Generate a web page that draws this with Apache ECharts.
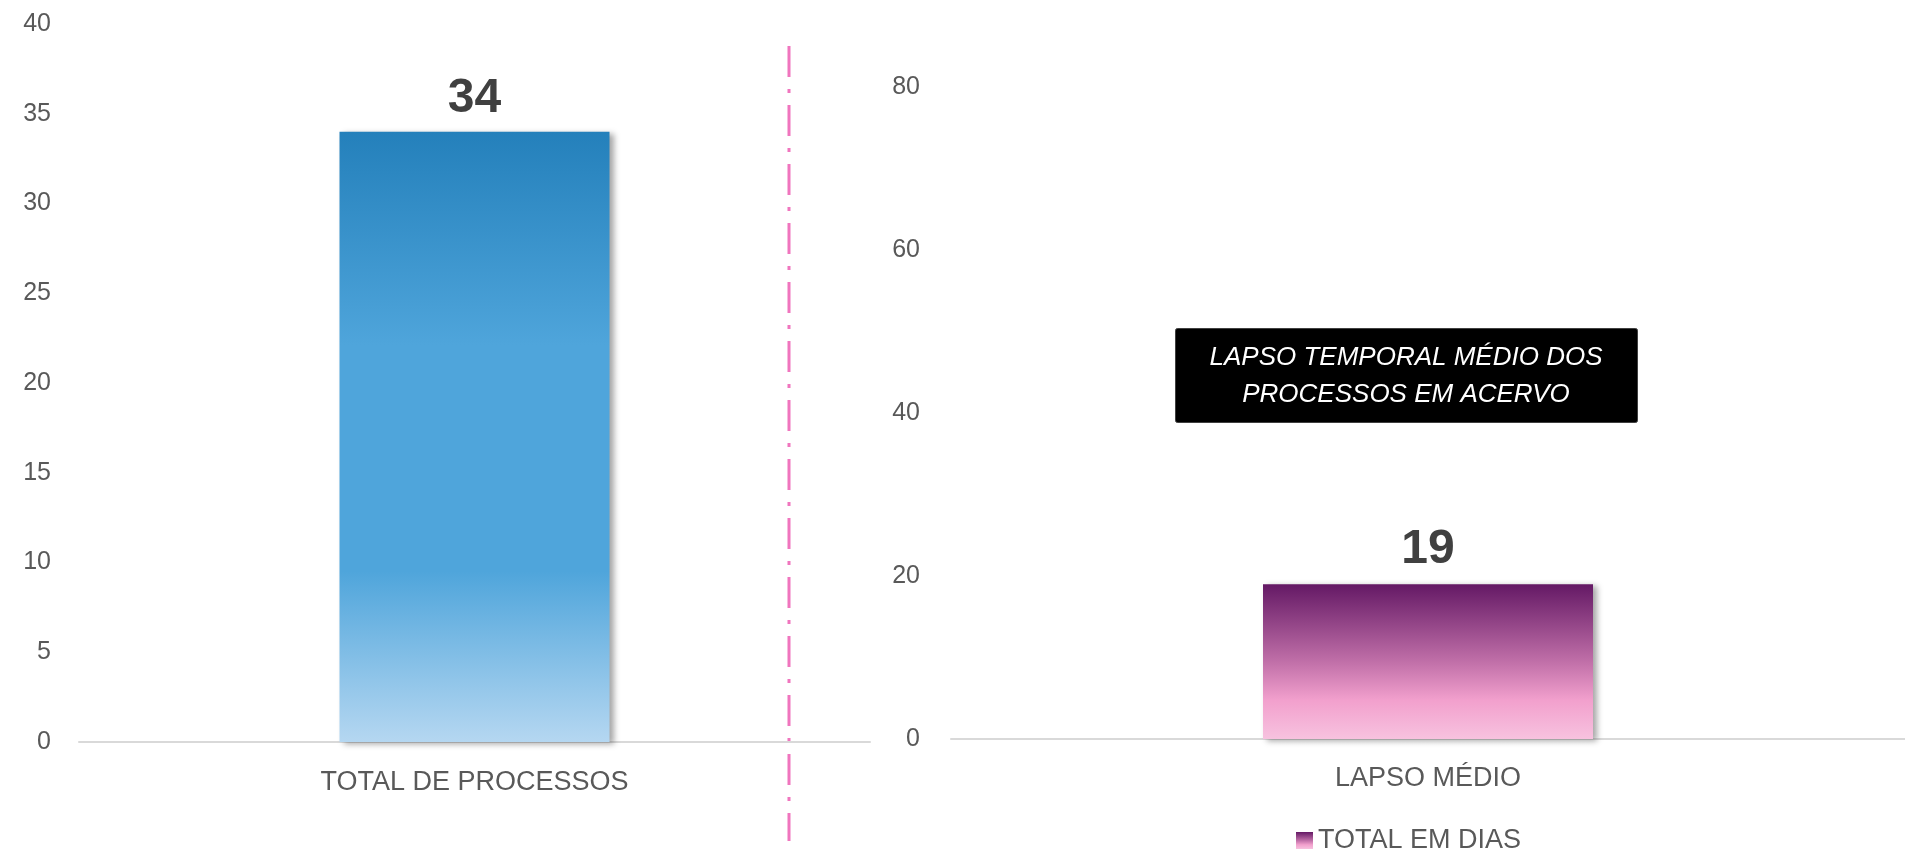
<!DOCTYPE html>
<html>
<head>
<meta charset="utf-8">
<script src="https://cdn.jsdelivr.net/npm/echarts@6/dist/echarts.min.js"></script>
<style>
html,body{margin:0;padding:0;background:#fff;}
#chart{width:1905px;height:852px;}
</style>
</head>
<body>
<div id="chart"></div>
<script>
const leftCategories = ['TOTAL DE PROCESSOS'];
const leftValues = [34];
const leftSeriesName = 'TOTAL DE PROCESSOS';
const rightCategories = ['LAPSO MÉDIO'];
const rightValues = [19];
const rightSeriesName = 'TOTAL EM DIAS';
const leftAxis = {min: 0, max: 40, interval: 5};
const rightAxis = {min: 0, max: 80, interval: 20};
const boxText = ['LAPSO TEMPORAL MÉDIO DOS', 'PROCESSOS EM ACERVO'];

const NARROW = "'Liberation Sans Narrow', 'Liberation Sans', Arial, sans-serif";
const BOLD = "'Liberation Sans', Arial, sans-serif";

const chart = echarts.init(document.getElementById('chart'));

const blueGrad = new echarts.graphic.LinearGradient(0, 0, 0, 1, [
  {offset: 0, color: '#2480bb'},
  {offset: 0.35, color: '#4fa5db'},
  {offset: 0.72, color: '#4fa5db'},
  {offset: 1, color: '#b5d7f1'}
]);
const purpleGrad = new echarts.graphic.LinearGradient(0, 0, 0, 1, [
  {offset: 0, color: '#641965'},
  {offset: 0.5, color: '#c06fa8'},
  {offset: 0.75, color: '#f2a0cd'},
  {offset: 1, color: '#f7c2df'}
]);

const axisLabelStyle = {color: '#595959', fontFamily: NARROW, fontSize: 25};
const catLabelStyle = {color: '#595959', fontFamily: NARROW, fontSize: 27};
const shadow = {shadowColor: 'rgba(0,0,0,0.35)', shadowBlur: 6, shadowOffsetX: 4, shadowOffsetY: 2};

chart.setOption({
  animation: false,
  backgroundColor: '#ffffff',
  grid: [
    {left: 79, right: 1035, top: 24, bottom: 110},
    {left: 951, right: -6, top: 87, bottom: 113}
  ],
  xAxis: [
    {type: 'category', gridIndex: 0, data: leftCategories,
     axisLine: {lineStyle: {color: '#d9d9d9', width: 2}}, axisTick: {show: false},
     axisLabel: Object.assign({margin: 27}, catLabelStyle)},
    {type: 'category', gridIndex: 1, data: rightCategories,
     axisLine: {lineStyle: {color: '#d9d9d9', width: 2}}, axisTick: {show: false},
     axisLabel: Object.assign({margin: 26}, catLabelStyle)}
  ],
  yAxis: [
    {type: 'value', gridIndex: 0, min: leftAxis.min, max: leftAxis.max, interval: leftAxis.interval,
     axisLine: {show: false}, axisTick: {show: false}, splitLine: {show: false},
     axisLabel: Object.assign({margin: 28}, axisLabelStyle)},
    {type: 'value', gridIndex: 1, min: rightAxis.min, max: rightAxis.max, interval: rightAxis.interval,
     axisLine: {show: false}, axisTick: {show: false}, splitLine: {show: false},
     axisLabel: Object.assign({margin: 31}, axisLabelStyle)}
  ],
  legend: {
    data: [rightSeriesName],
    left: 1291, top: 822,
    itemWidth: 17, itemHeight: 17, itemGap: 10,
    icon: 'rect',
    textStyle: {color: '#595959', fontFamily: NARROW, fontSize: 27, padding: [0, 0, 0, 0]}
  },
  series: [
    {name: leftSeriesName, type: 'bar', xAxisIndex: 0, yAxisIndex: 0, data: leftValues,
     barWidth: 270,
     itemStyle: Object.assign({color: blueGrad}, shadow),
     label: {show: true, position: 'top', distance: 9, color: '#404040', fontFamily: BOLD, fontWeight: 'bold', fontSize: 48}},
    {name: rightSeriesName, type: 'bar', xAxisIndex: 1, yAxisIndex: 1, data: rightValues,
     barWidth: 330,
     itemStyle: Object.assign({color: purpleGrad}, shadow),
     label: {show: true, position: 'top', distance: 10, color: '#404040', fontFamily: BOLD, fontWeight: 'bold', fontSize: 48}}
  ],
  graphic: [
    {type: 'line', shape: {x1: 789, y1: 46, x2: 789, y2: 841},
     style: {stroke: '#f075be', lineWidth: 3, lineDash: [31, 12, 4, 12]}},
    {type: 'rect', left: 1175, top: 328, shape: {width: 462, height: 94, r: 2},
     style: {fill: '#000000', stroke: '#404040', lineWidth: 1}},
    {type: 'text', x: 1406, y: 376,
     style: {text: boxText.join('\n'), fill: '#ffffff', font: "italic 26px " + NARROW,
             textAlign: 'center', textVerticalAlign: 'middle', lineHeight: 37}}
  ]
});
</script>
</body>
</html>
